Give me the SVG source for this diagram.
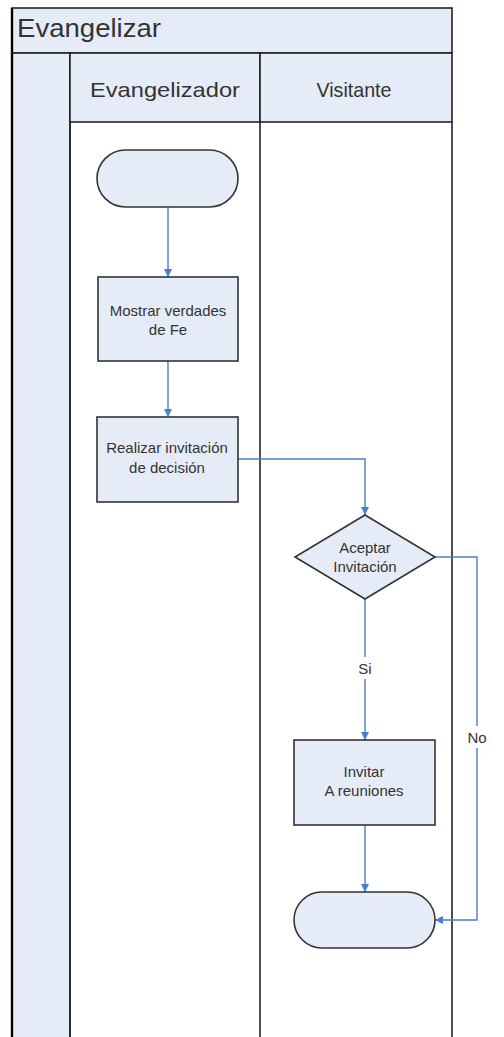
<svg xmlns="http://www.w3.org/2000/svg" width="504" height="1037" viewBox="0 0 504 1037">
<style>
.frame{fill:none;stroke:#222;stroke-width:1.6}
.hdr{fill:#e6ecf7;stroke:#222;stroke-width:1.6}
.node{fill:#e6ecf7;stroke:#333;stroke-width:1.6}
.conn{fill:none;stroke:#4a7ec8;stroke-width:1.4}
.t{font-family:"Liberation Sans",Arial,sans-serif;fill:#333;text-anchor:middle}
.s{font-size:15px}
.h{font-size:21px}
</style>
<defs>
<marker id="arr" viewBox="0 0 10 10" refX="10" refY="5" markerWidth="8" markerHeight="8" markerUnits="userSpaceOnUse" orient="auto">
<path d="M0,0 L10,5 L0,10 z" fill="#4a7ec8"/>
</marker>
</defs>
<rect width="504" height="1037" fill="#ffffff"/>
<g id="pool">
<rect x="12" y="8" width="440" height="45" class="hdr"/>
<text x="17" y="37" class="t" style="text-anchor:start;font-size:25px" textLength="144" lengthAdjust="spacingAndGlyphs">Evangelizar</text>
<rect x="12" y="53" width="58" height="990" class="hdr"/>
<rect x="70" y="53" width="190" height="69" class="hdr"/>
<rect x="260" y="53" width="192" height="69" class="hdr"/>
<text x="165" y="97" class="t h" textLength="150" lengthAdjust="spacingAndGlyphs">Evangelizador</text>
<text x="354" y="97" class="t h" textLength="75" lengthAdjust="spacingAndGlyphs">Visitante</text>
<line x1="70" y1="122" x2="70" y2="1037" class="frame"/>
<line x1="260" y1="122" x2="260" y2="1037" class="frame"/>
<line x1="452" y1="122" x2="452" y2="1037" class="frame"/>
<line x1="12" y1="8" x2="12" y2="1037" stroke="#000" stroke-width="2.4"/>
</g>
<g id="connectors">
<line x1="168" y1="207" x2="168" y2="277" class="conn" marker-end="url(#arr)"/>
<line x1="168" y1="361" x2="168" y2="417" class="conn" marker-end="url(#arr)"/>
<polyline points="238,459 365,459 365,515" class="conn" marker-end="url(#arr)"/>
<line x1="365" y1="599" x2="365" y2="740" class="conn" marker-end="url(#arr)"/>
<line x1="365" y1="825" x2="365" y2="892" class="conn" marker-end="url(#arr)"/>
<polyline points="435,557 477,557 477,920 435,920" class="conn" marker-end="url(#arr)"/>
<rect x="354" y="657" width="22" height="22" fill="#fff"/>
<text x="365" y="674" class="t s">Si</text>
<rect x="464" y="726" width="26" height="22" fill="#fff"/>
<text x="477" y="743" class="t s">No</text>
</g>
<g id="start">
<rect x="97" y="150" width="141" height="57" rx="28.5" class="node"/>
</g>
<g id="mostrar">
<rect x="98" y="277" width="140" height="84" class="node"/>
<text x="168" y="316" class="t s">Mostrar verdades</text>
<text x="168" y="335" class="t s">de Fe</text>
</g>
<g id="realizar">
<rect x="97" y="417" width="141" height="85" class="node"/>
<text x="167" y="453" class="t s">Realizar invitación</text>
<text x="167" y="473" class="t s">de decisión</text>
</g>
<g id="aceptar">
<polygon points="365,515 435,557 365,599 295,557" class="node"/>
<text x="365" y="553" class="t s">Aceptar</text>
<text x="365" y="572" class="t s">Invitación</text>
</g>
<g id="invitar">
<rect x="294" y="740" width="141" height="85" class="node"/>
<text x="364" y="777" class="t s">Invitar</text>
<text x="364" y="796" class="t s">A reuniones</text>
</g>
<g id="end">
<rect x="294" y="892" width="141" height="56" rx="28" class="node"/>
</g>
</svg>
